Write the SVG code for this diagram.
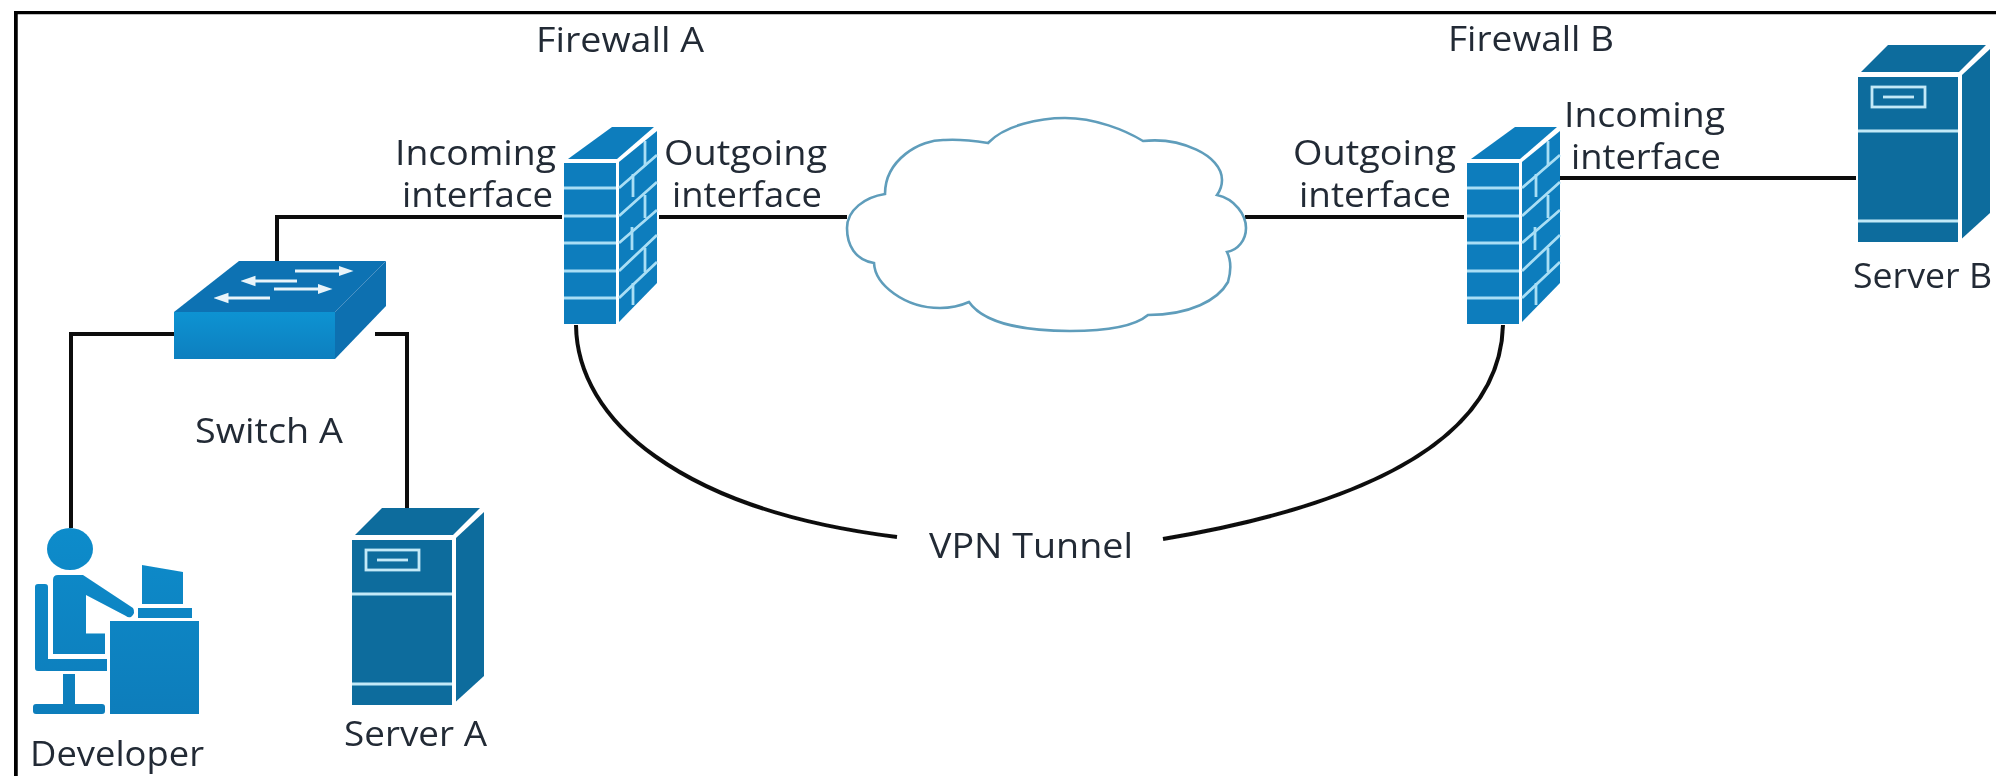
<svg xmlns="http://www.w3.org/2000/svg" xmlns:xlink="http://www.w3.org/1999/xlink" width="1996" height="776" viewBox="0 0 1996 776">
<style>
text{font-family:"Open Sans","Noto Sans","Liberation Sans",sans-serif;font-size:34px;fill:#232b36}
.c{fill:none;stroke:#111;stroke-width:4}
.frame{fill:none;stroke:#000;stroke-width:6.500}
.m{fill:none;stroke:#a9def5;stroke-width:2.800}
.s{fill:#0f6c9d}
.sl{fill:none;stroke:#c2e9f7;stroke-width:2.800}
.fw{fill:#0b7dbd}
.d{fill:url(#dv)}
.ar{fill:none;stroke:#e8f4fa;stroke-width:3;marker-end:url(#swa)}
</style>
<defs>
<filter id="soft" x="0" y="0" width="1" height="1" filterUnits="objectBoundingBox"><feGaussianBlur stdDeviation="0.7"/></filter>
<linearGradient id="dv" gradientUnits="userSpaceOnUse" x1="0" y1="525" x2="0" y2="716"><stop offset="0" stop-color="#0a8ccb"/><stop offset="1" stop-color="#0a7dbb"/></linearGradient>
<linearGradient id="swf" x1="0" y1="0" x2="0" y2="1"><stop offset="0" stop-color="#0b93d2"/><stop offset="1" stop-color="#0a7fbf"/></linearGradient>
<marker id="swa" viewBox="0 0 10 10" refX="1" refY="5" markerWidth="5" markerHeight="5" orient="auto" markerUnits="strokeWidth"><path d="M0 1.500 L10 5 L0 8.500Z" fill="#e8f4fa"/></marker>
<g id="server">
<path class="s" d="M355 535L382 508H480L453 535Z"/>
<path class="s" d="M456 538L484 512V676L456 701.500Z"/>
<rect class="s" x="352" y="540" width="100" height="165"/>
<path class="sl" d="M352 594H452M352 684H452"/>
<rect class="sl" x="366" y="550" width="53" height="20"/>
<path class="sl" d="M377 560H408"/>
</g>
<g id="firewall">
<path class="fw" d="M568 159L612 127H654L617 159Z"/>
<path class="fw" d="M619 162L657 131V283L619 322Z"/>
<rect class="fw" x="564" y="163" width="52" height="161"/>
<path class="m" d="M564 188H616M564 216H616M564 243H616M564 271H616M564 298H616"/>
<path class="m" d="M619 188L657 155M619 216L657 182M619 243L657 210M619 271L657 235M619 298L657 262"/>
<path class="m" d="M645 141V166M633 174V197M645 195V218M632 227V250M645 248V272M633 283V305"/>
</g>
</defs>
<rect width="1996" height="776" fill="#fff"/>
<g filter="url(#soft)">
<path class="frame" d="M14.500 776V11H1996"/>
<g id="connectors">
<path class="c" d="M277 261V217H562"/>
<path class="c" d="M659 217H847"/>
<path class="c" d="M1245 217H1464"/>
<path class="c" d="M1560 178H1856"/>
<path class="c" d="M174 334H71V528"/>
<path class="c" d="M375 334H407V508"/>
<path class="c" d="M576 325C577 420 680 510 897 537"/>
<path class="c" d="M1163 539C1365 505 1500 440 1503 325"/>
</g>
<g id="cloud">
<path fill="#fff" stroke="#5f9dbb" stroke-width="2.600" d="M988 143C1005 125 1040 118 1065 118C1095 118 1125 130 1143 141C1180 137 1222 155 1222 180Q1222 188 1217 195C1235 199 1246 215 1246 228C1246 240 1238 250 1227 252C1232 262 1230 275 1228 282C1218 300 1190 315 1148 315C1135 326 1105 331 1070 331C1030 331 985 325 969 302C960 306 950 308 940 308C905 308 875 285 874 263C855 260 847 245 847 228C847 210 865 197 885 194C885 160 920 139 945 140C960 139 975 141 988 143Z"/>
</g>
<g id="switch-a">
<path fill="#0b72b3" d="M174 312L239 261H386L335 312Z"/>
<path fill="#0b6fb0" d="M335 312L386 261V306L335 359Z"/>
<rect x="174" y="312" width="161" height="47" fill="url(#swf)"/>
<path class="ar" d="M295 271H340"/>
<path class="ar" d="M297 281H254"/>
<path class="ar" d="M274 289H319"/>
<path class="ar" d="M270 298H227"/>
<text x="195" y="443" textLength="148" lengthAdjust="spacingAndGlyphs">Switch A</text>
</g>
<g id="developer">
<ellipse class="d" cx="70" cy="549" rx="23" ry="21"/>
<path class="d" d="M53 580Q53 575 58 575H83L133 608Q136 613 131 617Q128 618 126 616L86 595V633.500H105V654H53Z"/>
<path class="d" d="M35 587Q35 584 38 584H45Q48 584 48 587V659H107V671H38Q35 671 35 668Z"/>
<rect class="d" x="63" y="674" width="12" height="30"/>
<rect class="d" x="33" y="704" width="72" height="10" rx="3"/>
<rect class="d" x="110" y="621" width="89" height="93"/>
<rect class="d" x="138" y="608" width="54" height="10"/>
<path class="d" d="M142 565L183 572V604H142Z"/>
<text x="30" y="766" textLength="174" lengthAdjust="spacingAndGlyphs">Developer</text>
</g>
<g id="server-a">
<use href="#server" xlink:href="#server"/>
<text x="344" y="746" textLength="143" lengthAdjust="spacingAndGlyphs">Server A</text>
</g>
<g id="firewall-a">
<use href="#firewall" xlink:href="#firewall"/>
<text x="536" y="52" textLength="168" lengthAdjust="spacingAndGlyphs">Firewall A</text>
<text x="395" y="165" textLength="161" lengthAdjust="spacingAndGlyphs">Incoming</text>
<text x="402" y="207" textLength="151" lengthAdjust="spacingAndGlyphs">interface</text>
<text x="664" y="165" textLength="163" lengthAdjust="spacingAndGlyphs">Outgoing</text>
<text x="672" y="207" textLength="150" lengthAdjust="spacingAndGlyphs">interface</text>
</g>
<g id="firewall-b">
<use href="#firewall" xlink:href="#firewall" transform="translate(903 0)"/>
<text x="1448" y="51" textLength="166" lengthAdjust="spacingAndGlyphs">Firewall B</text>
<text x="1293" y="165" textLength="163" lengthAdjust="spacingAndGlyphs">Outgoing</text>
<text x="1299" y="207" textLength="152" lengthAdjust="spacingAndGlyphs">interface</text>
<text x="1564" y="127" textLength="161" lengthAdjust="spacingAndGlyphs">Incoming</text>
<text x="1571" y="169" textLength="150" lengthAdjust="spacingAndGlyphs">interface</text>
</g>
<g id="server-b">
<use href="#server" xlink:href="#server" transform="translate(1506 -463)"/>
<text x="1853" y="288" textLength="139" lengthAdjust="spacingAndGlyphs">Server B</text>
</g>
<g id="vpn-label"><text x="929" y="558" textLength="204" lengthAdjust="spacingAndGlyphs">VPN Tunnel</text></g>
</g>
</svg>
